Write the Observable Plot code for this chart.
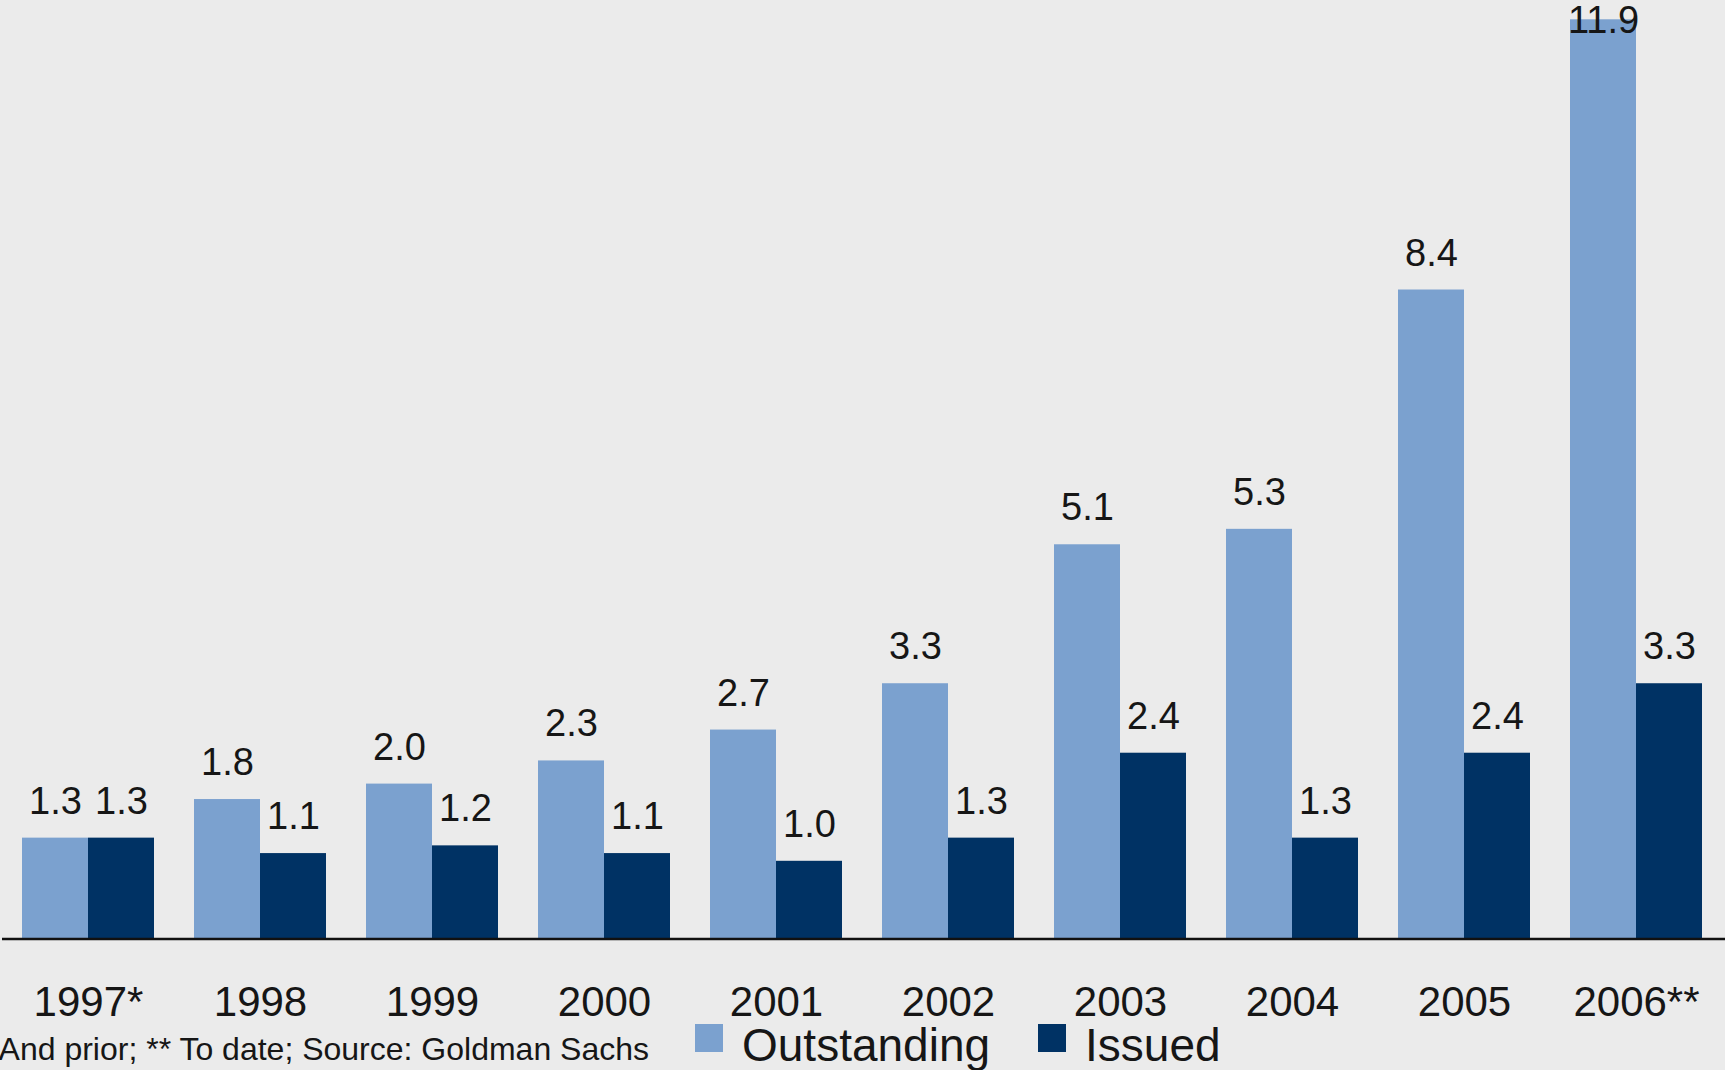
<!DOCTYPE html>
<html>
<head>
<meta charset="utf-8">
<script src="https://cdn.jsdelivr.net/npm/d3@7"></script>
<script src="https://cdn.jsdelivr.net/npm/@observablehq/plot@0.6"></script>
<style>
  html, body { margin: 0; padding: 0; background: #ebebeb; overflow: hidden; }
  #wrap { position: relative; width: 1725px; height: 1070px; background: #ebebeb; font-family: "Liberation Sans", Arial, sans-serif; color: #161616; }
  #chart { position: absolute; left: 0; top: 0; }
  #note { position: absolute; left: -21px; top: 1033px; font-size: 32px; line-height: 32px; white-space: nowrap; }
  #legend { position: absolute; left: 695px; top: 1022px; display: flex; font-size: 46px; line-height: 46px; white-space: nowrap; }
  .item { display: flex; }
  .sw { width: 28px; height: 28px; margin-top: 2px; margin-right: 19px; }
</style>
</head>
<body>
<div id="wrap">
  <div id="chart"></div>
  <div id="note"></div>
  <div id="legend"></div>
</div>
<script>
const years = ["1997*", "1998", "1999", "2000", "2001", "2002", "2003", "2004", "2005", "2006**"];
const outstanding = [1.3, 1.8, 2.0, 2.3, 2.7, 3.3, 5.1, 5.3, 8.4, 11.9];
const issued = [1.3, 1.1, 1.2, 1.1, 1.0, 1.3, 2.4, 1.3, 2.4, 3.3];
const seriesNames = ["Outstanding", "Issued"];
const seriesColors = ["#7ba1cf", "#003264"];
const footnote = "* And prior; ** To date; Source: Goldman Sachs";

const outData = years.map((y, i) => ({year: y, series: seriesNames[0], value: outstanding[i]}));
const issData = years.map((y, i) => ({year: y, series: seriesNames[1], value: issued[i]}));
const fmt = d => d.value.toFixed(1);
const half = 66;

const chart = Plot.plot({
  width: 1725,
  height: 1025,
  marginTop: 0,
  marginBottom: 87,
  marginLeft: 2,
  marginRight: 0,
  style: {background: "#ebebeb", fontFamily: "Liberation Sans, Arial, sans-serif", color: "#161616", overflow: "visible"},
  x: {domain: years, paddingInner: 40 / 172, paddingOuter: 0.125, align: 0.465},
  y: {domain: [0, 12.15], axis: null},
  color: {domain: seriesNames, range: seriesColors},
  marks: [
    Plot.barY(outData, {x: "year", y: "value", fill: "series", insetRight: half}),
    Plot.barY(issData, {x: "year", y: "value", fill: "series", insetLeft: half}),
    Plot.ruleY([0], {stroke: "#111", strokeWidth: 2.5, dy: 0.5}),
    Plot.text(outData.filter(d => d.value < 11), {x: "year", y: "value", text: fmt, dx: -half / 2, dy: -24.5, lineAnchor: "bottom", fontSize: 38, fill: "#161616"}),
    Plot.text(outData.filter(d => d.value >= 11), {x: "year", y: "value", text: fmt, dx: -half / 2, dy: 13, lineAnchor: "bottom", fontSize: 38, fill: "#161616"}),
    Plot.text(issData, {x: "year", y: "value", text: fmt, dx: half / 2, dy: -24.5, lineAnchor: "bottom", fontSize: 38, fill: "#161616"}),
    Plot.axisX({tickSize: 0, tickPadding: 48, fontSize: 42, fill: "#161616", label: null})
  ]
});
document.getElementById("chart").appendChild(chart);
document.getElementById("note").textContent = footnote;

const legend = document.getElementById("legend");
seriesNames.forEach((name, i) => {
  const item = document.createElement("div");
  item.className = "item";
  if (i > 0) item.style.marginLeft = "48px";
  const sw = document.createElement("div");
  sw.className = "sw";
  sw.style.background = seriesColors[i];
  const label = document.createElement("span");
  label.textContent = name;
  item.appendChild(sw);
  item.appendChild(label);
  legend.appendChild(item);
});
</script>
</body>
</html>
